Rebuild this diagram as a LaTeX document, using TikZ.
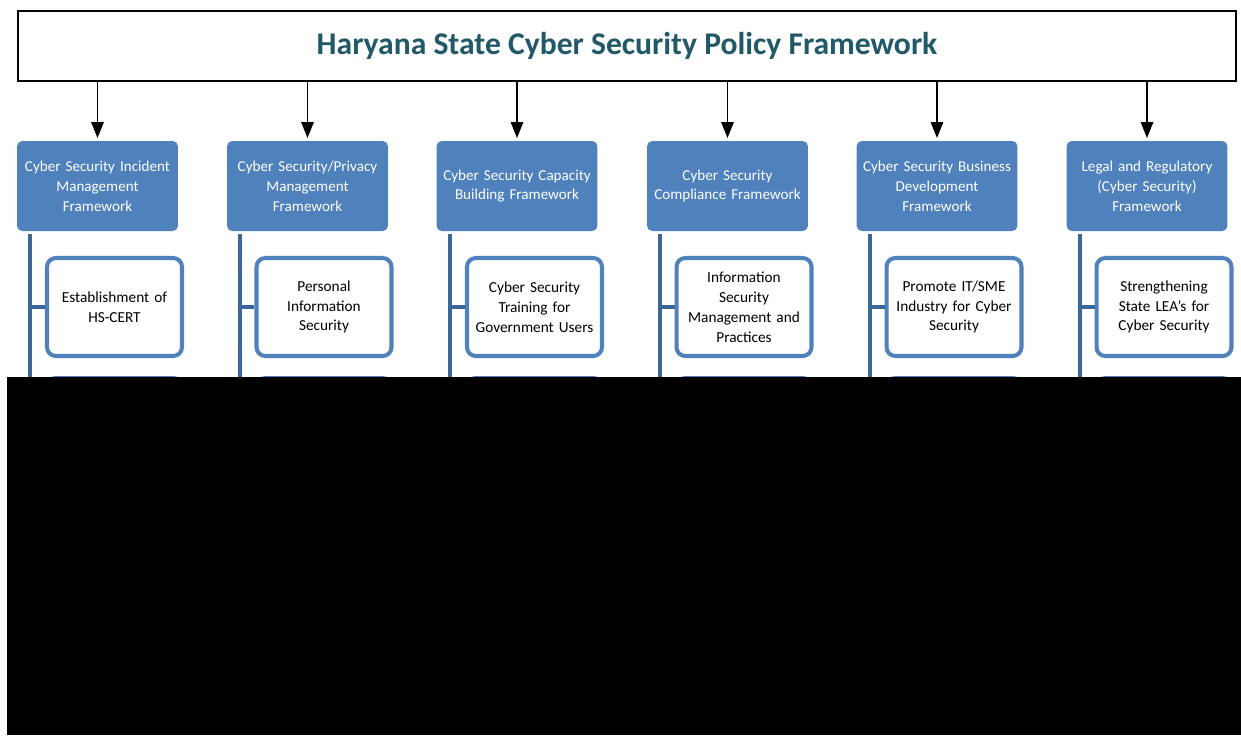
\documentclass[tikz,border=0pt]{standalone}
\usepackage{fontspec}
\setmainfont{Carlito}
\usetikzlibrary{arrows.meta}

\definecolor{hdrblue}{HTML}{4F81BD}
\definecolor{barblue}{HTML}{3B6699}
\definecolor{titleteal}{HTML}{215968}

\tikzstyle{titlebox}=[draw=black, line width=1pt, fill=white, minimum width=24.36cm, minimum height=1.4cm, text=titleteal, font=\fontsize{18}{21}\selectfont\bfseries]
\tikzstyle{hdr}=[fill=hdrblue, rounded corners=3pt, minimum width=3.22cm, minimum height=1.8cm, text width=2.98cm, align=center, text=white, font=\fontsize{8.6}{11.3}\selectfont]
\tikzstyle{item}=[draw=hdrblue, line width=2.3pt, fill=white, rounded corners=5pt, minimum width=2.7cm, minimum height=1.96cm, text width=2.45cm, align=center, font=\fontsize{8.7}{11.3}\selectfont]
\tikzstyle{bar}=[draw=barblue, line width=2.8pt]
\tikzstyle{down}=[-{Triangle[width=7pt,length=9pt]}, line width=0.9pt, shorten >=1.5pt]

\begin{document}
\begin{tikzpicture}[x=0.02cm,y=-0.02cm]
\useasboundingbox (0,0) rectangle (1241,735);

\node[titlebox] (title) at (627,46) {Haryana State Cyber Security Policy Framework};

% frameworks
\node[hdr] (hdr1) at (97.5,186) {Cyber Security Incident\\Management\\Framework};
\node[hdr] (hdr2) at (307.5,186) {Cyber Security/Privacy\\Management\\Framework};
\node[hdr] (hdr3) at (517,186) {Cyber Security Capacity\\Building Framework};
\node[hdr] (hdr4) at (727.5,186) {Cyber Security\\Compliance Framework};
\node[hdr] (hdr5) at (937,186) {Cyber Security Business\\Development\\Framework};
\node[hdr] (hdr6) at (1147,186) {Legal and Regulatory\\(Cyber Security)\\Framework};

\draw[down] (title.south -| hdr1.north) -- (hdr1.north);
\draw[down] (title.south -| hdr2.north) -- (hdr2.north);
\draw[down] (title.south -| hdr3.north) -- (hdr3.north);
\draw[down] (title.south -| hdr4.north) -- (hdr4.north);
\draw[down] (title.south -| hdr5.north) -- (hdr5.north);
\draw[down] (title.south -| hdr6.north) -- (hdr6.north);

% first items
\node[item] (c1) at (114.5,307) {Establishment of\\HS-CERT};
\node[item] (c2) at (324,307) {Personal\\Information\\Security};
\node[item] (c3) at (534.5,307) {Cyber Security\\Training for\\Government Users};
\node[item] (c4) at (744,307) {Information\\Security\\Management and\\Practices};
\node[item] (c5) at (954,307) {Promote IT/SME\\Industry for Cyber\\Security};
\node[item] (c6) at (1164,307) {Strengthening\\State LEA's for\\Cyber Security};

% next items, cut off below
\node[item] (d1) at (114.5,427) {};
\node[item] (d2) at (324,427) {};
\node[item] (d3) at (534.5,427) {};
\node[item] (d4) at (744,427) {};
\node[item] (d5) at (954,427) {};
\node[item] (d6) at (1164,427) {};

% bars
\coordinate (t1) at (30,234);   \coordinate (e1) at (30,400);
\coordinate (t2) at (240,234);  \coordinate (e2) at (240,400);
\coordinate (t3) at (450,234);  \coordinate (e3) at (450,400);
\coordinate (t4) at (660,234);  \coordinate (e4) at (660,400);
\coordinate (t5) at (870,234);  \coordinate (e5) at (870,400);
\coordinate (t6) at (1080,234); \coordinate (e6) at (1080,400);

\draw[bar] (t1) -- (e1);  \draw[bar] (t1 |- c1.west) -- (c1.west);
\draw[bar] (t2) -- (e2);  \draw[bar] (t2 |- c2.west) -- (c2.west);
\draw[bar] (t3) -- (e3);  \draw[bar] (t3 |- c3.west) -- (c3.west);
\draw[bar] (t4) -- (e4);  \draw[bar] (t4 |- c4.west) -- (c4.west);
\draw[bar] (t5) -- (e5);  \draw[bar] (t5 |- c5.west) -- (c5.west);
\draw[bar] (t6) -- (e6);  \draw[bar] (t6 |- c6.west) -- (c6.west);

\fill[black] (7,377) rectangle (1241,735);

\end{tikzpicture}
\end{document}
